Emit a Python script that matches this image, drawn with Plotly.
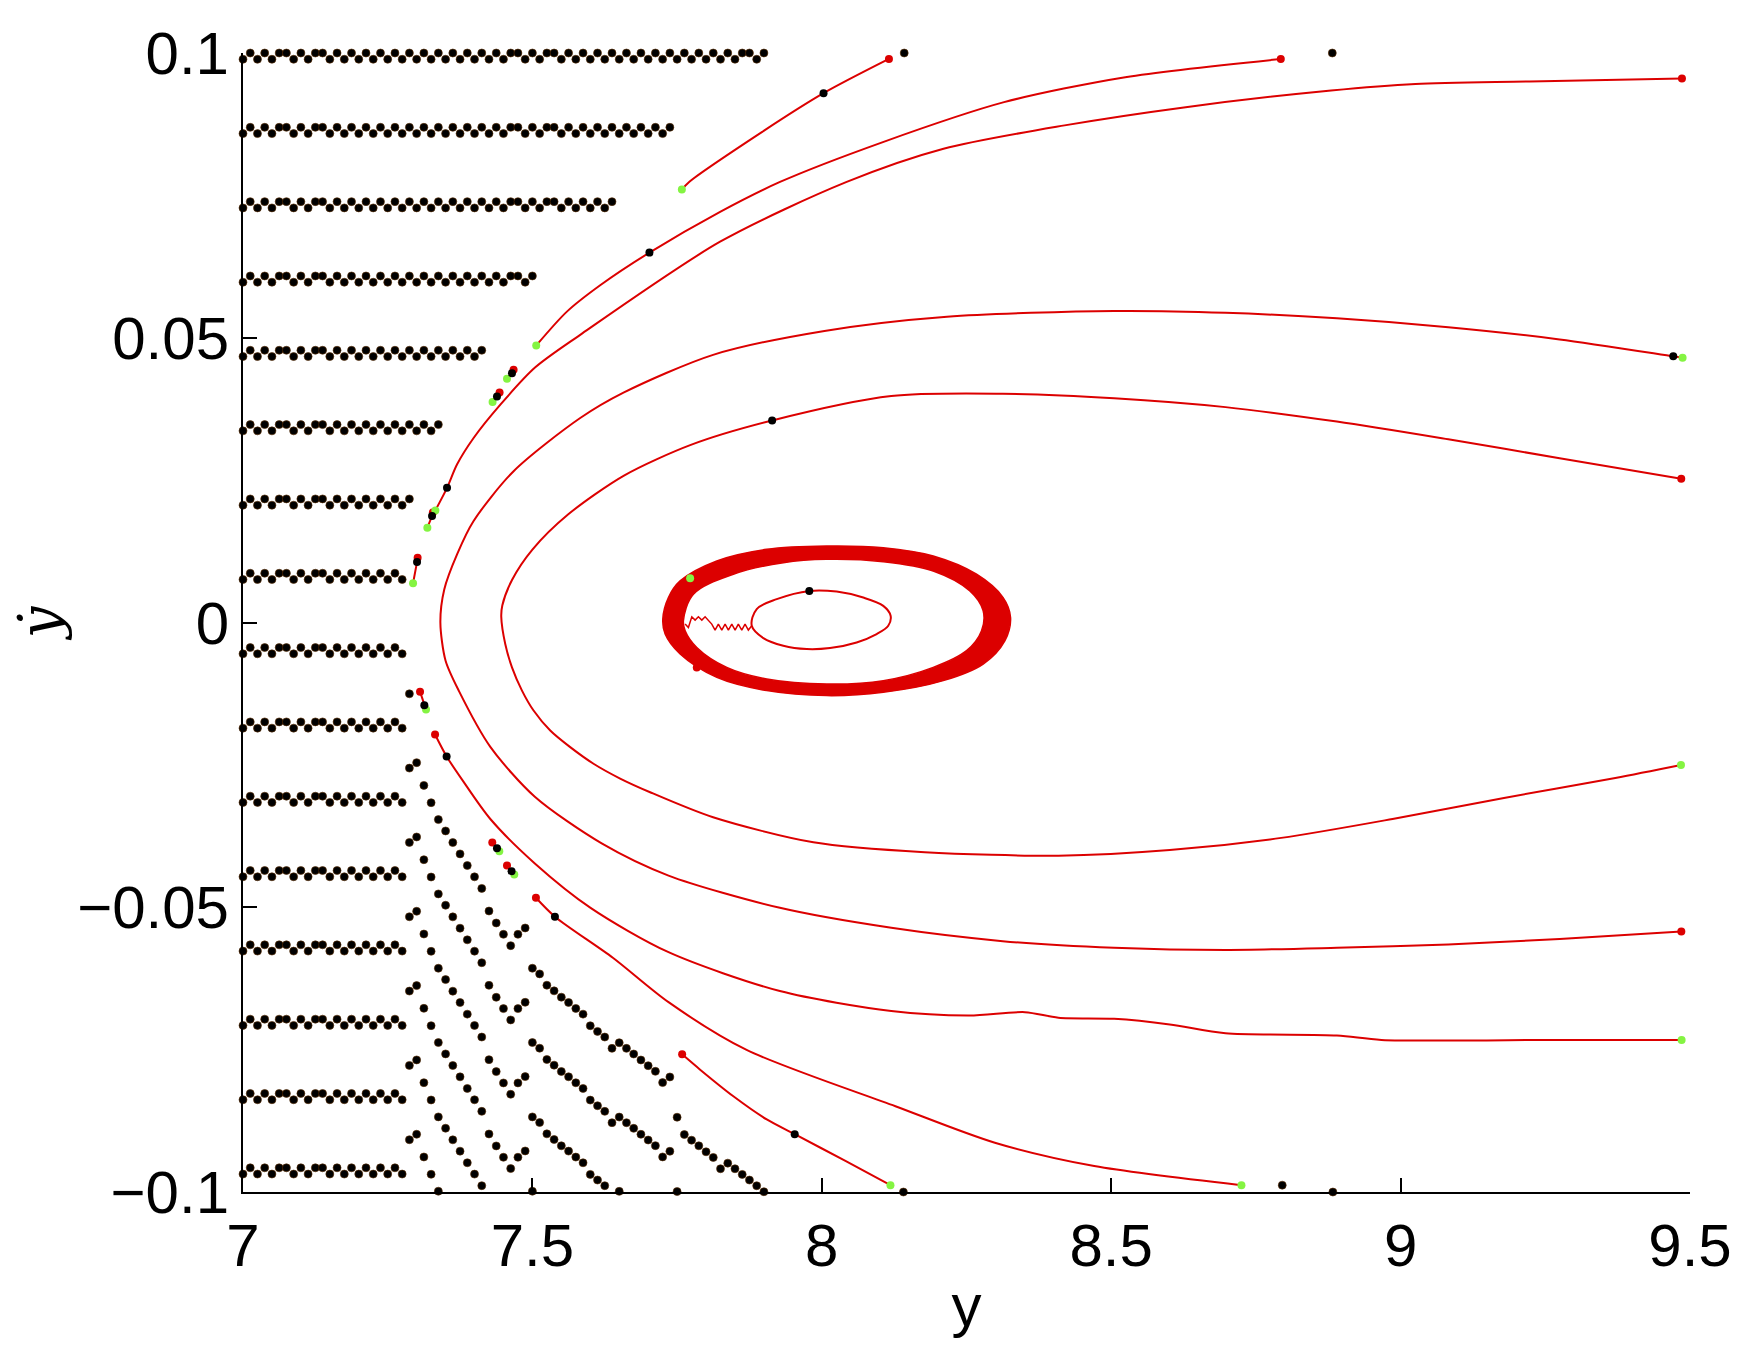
import plotly.graph_objects as go

# ---------------- colours / fonts ----------------
RED = "#dc0000"
GREEN = "#84f442"
BLACK = "#000000"
DOT_EDGE = "#5a2c00"
TICK_FONT = "Liberation Sans"

# ---------------- axis ticks ----------------
X_TICKS = [7, 7.5, 8, 8.5, 9, 9.5]
Y_TICKS = [-0.1, -0.05, 0, 0.05, 0.1]

# ---------------- black grid of points (left block) ----------------
ROW_TOP = [0.1, 0.08695, 0.0739, 0.06085, 0.0478, 0.03475, 0.0217, 0.00865,
           -0.0044, -0.01745, -0.0305, -0.04355, -0.0566, -0.06965, -0.0827, -0.09575]
ROW_LEN = [73, 60, 52, 41, 34, 28, 24, 23, 23, 23, 23, 23, 23, 23, 23, 23]
GRID_X0 = 7.0
GRID_DX = 0.0125
ZIG_DROP = 0.0011
# 1 = upper point, 0 = lower point, per grid column
ZIGZAG = ("010101" "1" "0101" "1" "01010101010101010101010101" "1"
          "0101" "1" "01010101010101010101010101" "1" "01")

# ---------------- diagonal bands of black points (lower part) ----------------
BAND_STEP = 0.01305
Y_FLOOR = -0.1003
A_COLS = [23, 24]
A_Y0 = [-0.02557, -0.02461]
B_COLS = [25, 26]
B_Y0 = [-0.02860, -0.03164]
C_COLS = [27, 28, 29, 30, 31, 32, 33]
C_Y0 = [-0.03461, -0.03660, -0.03864, -0.04063, -0.04267, -0.04466, -0.04669]
D_COLS = [34, 35, 36, 37, 38, 39]
D_Y0 = [-0.05066, -0.05276, -0.05475, -0.05674, -0.05475, -0.05364]
E_COLS = list(range(40, 60))
E_Y0 = [-0.06071, -0.06170, -0.06369, -0.06468, -0.06579, -0.06672, -0.06777,
        -0.06877, -0.07081, -0.07180, -0.07279, -0.07478, -0.07379, -0.07478,
        -0.07577, -0.07682, -0.07782, -0.07881, -0.08079, -0.07980]
F_COLS = list(range(60, 73))
F_Y0 = [-0.08687, -0.08991, -0.09090, -0.09189, -0.09294, -0.09393, -0.09592,
        -0.09493, -0.09592, -0.09691, -0.09790, -0.09890, -0.09995]

# isolated black points
LONE_X = [7.2875, 8.1424, 8.882, 8.141, 8.7955, 8.883]
LONE_Y = [-0.01252, 0.1, 0.1, -0.1, -0.0988, -0.1]

# ---------------- trajectories (start = red, end = green) ----------------
T1_X = [8.116, 8.003, 7.8964, 7.7708, 7.7582]
T1_Y = [0.09895, 0.09294, 0.08611, 0.07736, 0.07601]

LA_X = [8.793, 8.5243, 8.3149, 8.1056, 7.9278, 7.8243, 7.7022, 7.6177, 7.5596, 7.5066]
LA_Y = [0.09895, 0.09576, 0.09137, 0.08436, 0.07736, 0.07211, 0.06495, 0.05926, 0.05459, 0.04864]

LB_X = [9.4861, 9.2231, 9.0257, 8.8799, 8.6287, 8.4194, 8.2103, 8.0430, 7.8243,
        7.5826, 7.5050, 7.4450, 7.3984, 7.3697, 7.3525, 7.3323]
LB_Y = [0.09552, 0.0950, 0.09457, 0.09342, 0.09049, 0.08729, 0.08319, 0.07736, 0.06686,
        0.05051, 0.04480, 0.03830, 0.03240, 0.02774, 0.02364, 0.01968]

OUTER_X = [9.485, 9.2748, 9.0824, 8.8899, 8.6975, 8.5050, 8.3126, 8.1201, 7.9276,
           7.7352, 7.6197, 7.5042, 7.4273, 7.3734, 7.3500, 7.3410, 7.3477, 7.3700,
           7.3984, 7.4675, 7.5826, 7.6582, 7.8122, 8.0046, 8.2163, 8.5050, 8.6975,
           8.8899, 9.0824, 9.2748, 9.4711, 9.4872]
OUTER_Y = [-0.05424, -0.05556, -0.05653, -0.05711, -0.05750, -0.05711, -0.05595,
           -0.05361, -0.05010, -0.04444, -0.03879, -0.03060, -0.02183, -0.01209,
           -0.00671, 0.00000, 0.00580, 0.01200, 0.01782, 0.02657, 0.03590, 0.04040,
           0.04700, 0.05120, 0.05370, 0.05470, 0.05439, 0.05341, 0.05185, 0.04971,
           0.04674, 0.0465]

INNER_X = [9.4849, 9.2748, 9.0824, 8.8899, 8.6975, 8.5050, 8.3126, 8.1201, 7.9142,
           7.7737, 7.6582, 7.5620, 7.5000, 7.4650, 7.4480, 7.4462, 7.4531, 7.4647,
           7.4820, 7.5020, 7.5308, 7.5653, 7.6056, 7.6516, 7.7034, 7.8122, 7.9854,
           8.1778, 8.4088, 8.6012, 8.7937, 8.9861, 9.1786, 9.3710, 9.4844]
INNER_Y = [0.02524, 0.02885, 0.03216, 0.03528, 0.03782, 0.03938, 0.04016, 0.03977,
           0.03548, 0.03119, 0.02580, 0.01900, 0.01280, 0.00750, 0.00300, 0.00100,
           -0.00378, -0.00788, -0.01196, -0.01546, -0.01897, -0.02189, -0.02480,
           -0.02740, -0.02980, -0.03420, -0.03860, -0.04035, -0.04094, -0.03996,
           -0.03782, -0.03450, -0.03080, -0.02729, -0.02501]

LD_X = [7.3318, 7.3518, 7.3791, 7.4273, 7.5042, 7.6005, 7.7352, 7.9276, 8.1201,
        8.2548, 8.3510, 8.4088, 8.5050, 8.6012, 8.6975, 8.8899, 8.9669, 9.2748, 9.4855]
LD_Y = [-0.01967, -0.02352, -0.02768, -0.03450, -0.04230, -0.05010, -0.05789,
        -0.06472, -0.06823, -0.06901, -0.06842, -0.06940, -0.06959, -0.07057,
        -0.07212, -0.07251, -0.07329, -0.07329, -0.0733]

LE_X = [7.5061, 7.5389, 7.639, 7.7352, 7.8692, 8.1272, 8.2990, 8.4707, 8.725]
LE_Y = [-0.04834, -0.05166, -0.05887, -0.06667, -0.07501, -0.08494, -0.09135, -0.09545, -0.0988]

LF_X = [7.7587, 7.7898, 7.8472, 7.9049, 7.9532, 8.04, 8.1186]
LF_Y = [-0.07583, -0.07852, -0.08319, -0.08726, -0.08985, -0.0945, -0.0988]

# short trajectories: start, middle, end
S1_X = [7.4675, 7.4647, 7.4561]; S1_Y = [0.04438, 0.04378, 0.04280]
S2_X = [7.4433, 7.4388, 7.4312]; S2_Y = [0.04040, 0.03970, 0.03870]
S3_X = [7.3017, 7.3007, 7.2938]; S3_Y = [0.01138, 0.01063, 0.00690]
S4_X = [7.3280, 7.3266, 7.3185]; S4_Y = [0.01930, 0.01869, 0.01664]
S5_X = [7.3059, 7.3133, 7.3162]; S5_Y = [-0.01214, -0.01454, -0.01529]
S6_X = [7.4307, 7.4388, 7.4428]; S6_Y = [-0.03863, -0.03963, -0.04016]
S7_X = [7.4561, 7.4640, 7.4687]; S7_Y = [-0.04266, -0.04366, -0.04424]

# black points on the long trajectories
MID_X = [8.003, 7.7022, 7.3525, 9.4711, 7.9142, 7.3518, 7.5389, 7.9532, 7.9784]
MID_Y = [0.09294, 0.06495, 0.02364, 0.04674, 0.03548, -0.02352, -0.05166, -0.08985, 0.00555]

# ---------------- central limit-cycle band ----------------
RING_OUT_X = [7.7253, 7.7350, 7.7552, 7.8186, 7.9049, 8.0085, 8.1062, 8.1925, 8.2674,
              8.3133, 8.3261, 8.3162, 8.2788, 8.2098, 8.1062, 8.0085, 7.9049, 7.8186,
              7.7552, 7.7293, 7.7253]
RING_OUT_Y = [0.00060, 0.00438, 0.00730, 0.01081, 0.01285, 0.01343, 0.01313, 0.01168,
              0.00847, 0.00438, 0.00088, -0.00321, -0.00729, -0.01021, -0.01226,
              -0.01284, -0.01196, -0.00963, -0.00553, -0.00203, 0.00060]
RING_IN_X = [7.7609, 7.7782, 7.8472, 7.9335, 8.0085, 8.1062, 8.1925, 8.2558, 8.2788,
             8.2760, 8.2501, 8.1925, 8.1062, 8.0085, 7.9049, 7.8358, 7.7840, 7.7639, 7.7609]
RING_IN_Y = [0.00030, 0.00497, 0.00847, 0.01051, 0.01110, 0.01068, 0.00905, 0.00555,
             0.00205, -0.00145, -0.00495, -0.00788, -0.01021, -0.01079, -0.00991,
             -0.00788, -0.00438, -0.00145, 0.00030]
SMALL_X = [7.8790, 7.8876, 7.9221, 7.9784, 8.0257, 8.0716, 8.1062, 8.1189, 8.1148,
           8.0948, 8.0602, 8.0142, 7.9739, 7.9335, 7.8990, 7.8790]
SMALL_Y = [-0.00058, 0.00235, 0.00410, 0.00555, 0.00543, 0.00438, 0.00292, 0.00118,
           -0.00058, -0.00203, -0.00350, -0.00448, -0.00466, -0.00408, -0.00274, -0.00058]
WIGGLE_X = [7.8790, 7.8731, 7.8674, 7.8617, 7.8558, 7.8502, 7.8445, 7.8386, 7.8329,
            7.8272, 7.8213, 7.8156, 7.8099, 7.8041, 7.7984, 7.7927, 7.7868, 7.7811,
            7.7754, 7.7695, 7.7639]
WIGGLE_Y = [-0.00058, -0.00133, -0.00028, -0.00133, -0.00028, -0.00133, -0.00028,
            -0.00133, -0.00028, -0.00133, -0.00028, -0.00133, -0.00028, 0.00042,
            0.00100, 0.00042, 0.00100, 0.00042, 0.00100, -0.00088, -0.00028]
SPIRAL_START = (7.784, -0.0079)
SPIRAL_END = (7.7725, 0.00777)

# ======================================================================
fig = go.Figure()

# central band
fig.add_trace(go.Scatter(x=RING_OUT_X, y=RING_OUT_Y, mode="lines", fill="toself",
                         fillcolor=RED, line=dict(color=RED, width=1.5, shape="spline"),
                         hoverinfo="skip"))
fig.add_trace(go.Scatter(x=RING_IN_X, y=RING_IN_Y, mode="lines", fill="toself",
                         fillcolor="white", line=dict(color=RED, width=1.5, shape="spline"),
                         hoverinfo="skip"))
fig.add_trace(go.Scatter(x=SMALL_X, y=SMALL_Y, mode="lines",
                         line=dict(color=RED, width=2, shape="spline")))
fig.add_trace(go.Scatter(x=WIGGLE_X, y=WIGGLE_Y, mode="lines",
                         line=dict(color=RED, width=1.5)))

long_paths = [(T1_X, T1_Y), (LA_X, LA_Y), (LB_X, LB_Y), (OUTER_X, OUTER_Y),
              (INNER_X, INNER_Y), (LD_X, LD_Y), (LE_X, LE_Y), (LF_X, LF_Y)]
short_paths = [(S1_X, S1_Y), (S2_X, S2_Y), (S3_X, S3_Y), (S4_X, S4_Y),
               (S5_X, S5_Y), (S6_X, S6_Y), (S7_X, S7_Y)]

for px, py in long_paths:
    fig.add_trace(go.Scatter(x=px, y=py, mode="lines",
                             line=dict(color=RED, width=2, shape="spline", smoothing=0.8)))
for px, py in short_paths:
    fig.add_trace(go.Scatter(x=px, y=py, mode="lines", line=dict(color=RED, width=2)))

# black grid points
gx, gy = [], []
for top, n in zip(ROW_TOP, ROW_LEN):
    for i in range(n):
        gx.append(GRID_X0 + i * GRID_DX)
        gy.append(top if ZIGZAG[i] == "1" else top - ZIG_DROP)
for cols, y0s in [(A_COLS, A_Y0), (B_COLS, B_Y0), (C_COLS, C_Y0),
                  (D_COLS, D_Y0), (E_COLS, E_Y0), (F_COLS, F_Y0)]:
    k = 0
    while True:
        added = False
        for c, y0 in zip(cols, y0s):
            yy = y0 - k * BAND_STEP
            if yy >= Y_FLOOR:
                gx.append(GRID_X0 + c * GRID_DX)
                gy.append(max(yy, -0.1))
                added = True
        if not added:
            break
        k += 1
gx += LONE_X
gy += LONE_Y
fig.add_trace(go.Scatter(x=gx, y=gy, mode="markers", cliponaxis=False,
                         marker=dict(color=BLACK, size=8, line=dict(color=DOT_EDGE, width=0.6))))

# start (red), end (green), middle (black) markers
all_paths = long_paths + short_paths
red_x = [p[0][0] for p in all_paths] + [SPIRAL_START[0]]
red_y = [p[1][0] for p in all_paths] + [SPIRAL_START[1]]
green_x = [p[0][-1] for p in all_paths] + [SPIRAL_END[0]]
green_y = [p[1][-1] for p in all_paths] + [SPIRAL_END[1]]
mid_x = MID_X + [p[0][1] for p in short_paths]
mid_y = MID_Y + [p[1][1] for p in short_paths]

fig.add_trace(go.Scatter(x=red_x, y=red_y, mode="markers", cliponaxis=False,
                         marker=dict(color=RED, size=8)))
fig.add_trace(go.Scatter(x=green_x, y=green_y, mode="markers", cliponaxis=False,
                         marker=dict(color=GREEN, size=8)))
fig.add_trace(go.Scatter(x=mid_x, y=mid_y, mode="markers", cliponaxis=False,
                         marker=dict(color=BLACK, size=8)))

# the page adds an 8 px body margin; margins below compensate for it
fig.update_layout(
    width=1745, height=1350,
    margin=dict(l=235, r=63, t=43, b=166),
    plot_bgcolor="white", paper_bgcolor="white",
    showlegend=False,
)
fig.update_xaxes(
    range=[7, 9.5], tickvals=X_TICKS, ticks="inside", ticklen=14, tickwidth=2,
    tickcolor="black", showline=True, linewidth=2, linecolor="black",
    showgrid=False, zeroline=False,
    tickfont=dict(family=TICK_FONT, size=60, color="black"),
    title=dict(text="y", font=dict(family=TICK_FONT, size=60, color="black"), standoff=6),
)
fig.update_yaxes(
    range=[-0.1, 0.1], tickvals=Y_TICKS, ticks="inside", ticklen=14, tickwidth=2,
    tickcolor="black", showline=True, linewidth=2, linecolor="black",
    showgrid=False, zeroline=False,
    tickfont=dict(family=TICK_FONT, size=60, color="black"),
    title=dict(text="<i>ẏ</i>", font=dict(family="DejaVu Serif", size=56, color="black"),
               standoff=14),
)

fig.write_html("out.html")
